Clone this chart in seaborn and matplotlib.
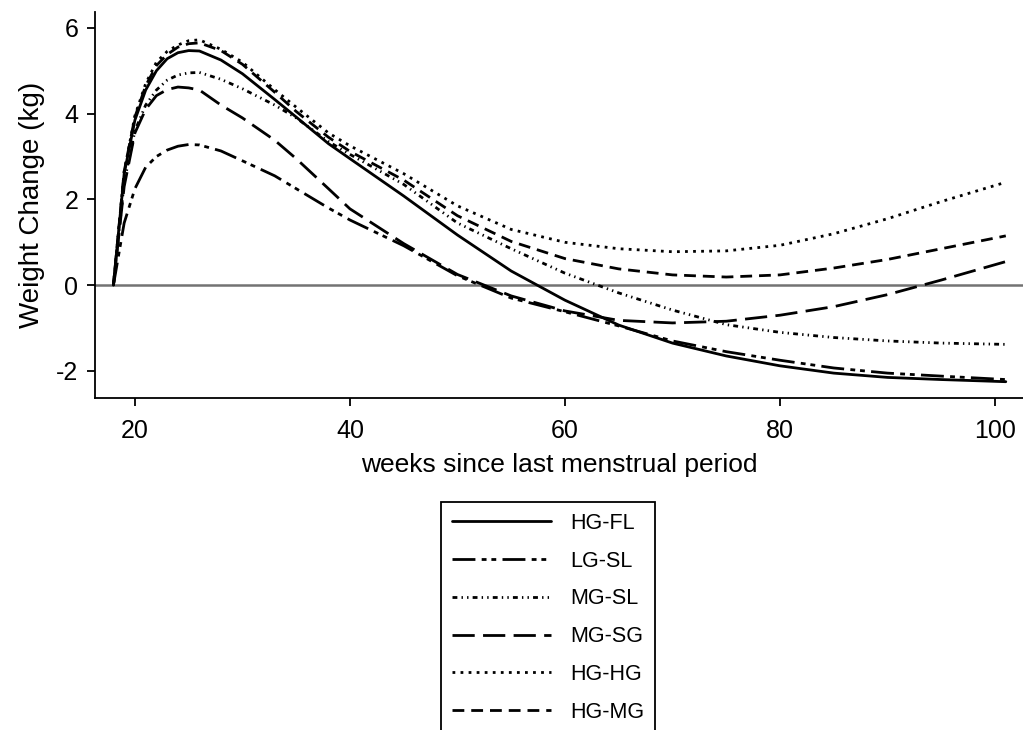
import numpy as np
import pandas as pd
import seaborn as sns
import matplotlib
matplotlib.use("Agg")
import matplotlib.pyplot as plt

weeks = [18, 19, 20, 21, 22, 23, 24, 25, 26, 28, 30, 33, 35, 38, 40,
         45, 50, 55, 60, 65, 70, 75, 80, 85, 90, 95, 101]

hg_fl = [0, 2.6, 3.85, 4.55, 5.0, 5.28, 5.42, 5.47, 5.46, 5.25, 4.93, 4.33, 3.92, 3.3, 2.95,
         2.08, 1.17, 0.33, -0.35, -0.93, -1.35, -1.65, -1.88, -2.05, -2.15, -2.2, -2.25]
lg_sl = [0, 1.45, 2.25, 2.75, 3.0, 3.15, 3.24, 3.28, 3.27, 3.13, 2.9, 2.55, 2.25, 1.8, 1.52,
         0.92, 0.22, -0.3, -0.62, -0.95, -1.3, -1.55, -1.75, -1.93, -2.05, -2.12, -2.2]
mg_sl = [0, 2.4, 3.6, 4.2, 4.55, 4.78, 4.9, 4.95, 4.96, 4.8, 4.58, 4.2, 3.9, 3.35, 3.05,
         2.35, 1.45, 0.85, 0.28, -0.18, -0.58, -0.92, -1.1, -1.22, -1.3, -1.35, -1.38]
mg_sg = [0, 2.3, 3.55, 4.1, 4.42, 4.56, 4.62, 4.6, 4.55, 4.2, 3.9, 3.38, 2.95, 2.25, 1.78,
         0.97, 0.25, -0.25, -0.6, -0.82, -0.88, -0.84, -0.7, -0.5, -0.22, 0.12, 0.55]
hg_hg = [0, 2.65, 3.95, 4.7, 5.2, 5.45, 5.6, 5.7, 5.72, 5.5, 5.2, 4.56, 4.15, 3.55, 3.25,
         2.6, 1.85, 1.3, 1.0, 0.85, 0.78, 0.8, 0.93, 1.2, 1.55, 1.95, 2.4]
hg_mg = [0, 2.65, 3.92, 4.65, 5.12, 5.38, 5.55, 5.63, 5.65, 5.47, 5.15, 4.5, 4.05, 3.45, 3.12,
         2.45, 1.62, 1.02, 0.62, 0.38, 0.24, 0.19, 0.24, 0.4, 0.6, 0.85, 1.15]

groups = ["HG-FL", "LG-SL", "MG-SL", "MG-SG", "HG-HG", "HG-MG"]
values = [hg_fl, lg_sl, mg_sl, mg_sg, hg_hg, hg_mg]

# dash patterns in points (not scaled by linewidth)
dash_map = {
    "HG-FL": "",
    "LG-SL": (16.5, 4.5, 3.5, 3.5, 3.5, 4.5),
    "MG-SL": (3.5, 3, 1, 3, 1, 3),
    "MG-SG": (16, 6),
    "HG-HG": (2, 3.8),
    "HG-MG": (8.5, 5),
}

df = pd.concat([pd.DataFrame({"week": weeks, "change": v, "group": g})
                for g, v in zip(groups, values)], ignore_index=True)

sns.set_style("ticks")
plt.rcParams["font.family"] = ["Liberation Sans", "DejaVu Sans"]
plt.rcParams["lines.scale_dashes"] = False
plt.rcParams["axes.unicode_minus"] = False
plt.rcParams["text.color"] = "black"
plt.rcParams["axes.labelcolor"] = "black"
plt.rcParams["xtick.color"] = "black"
plt.rcParams["ytick.color"] = "black"

LW = 2.0

fig = plt.figure(figsize=(10.23, 7.3), dpi=100)
ax = fig.add_axes([0.093, 0.4548, 0.907, 0.5288])

ax.axhline(0, color="0.45", lw=1.8, zorder=1)

sns.lineplot(data=df, x="week", y="change", hue="group", style="group",
             hue_order=groups, style_order=groups,
             palette=["black"] * 6, dashes=dash_map, linewidth=LW,
             ax=ax, legend="full", zorder=3)

handles = ax.get_legend().legend_handles
labels = [t.get_text() for t in ax.get_legend().get_texts()]
ax.get_legend().remove()

ax.set_xlim(16.3, 102.6)
ax.set_ylim(-2.63, 6.37)
ax.set_xticks([20, 40, 60, 80, 100])
ax.set_yticks([-2, 0, 2, 4, 6])
ax.set_xlabel("weeks since last menstrual period", fontsize=19, labelpad=7)
ax.set_ylabel("Weight Change (kg)", fontsize=20, labelpad=8)
ax.tick_params(direction="out", length=6, width=1.3, labelsize=18, pad=6)
ax.tick_params(axis="x", pad=9)

sns.despine(ax=ax)
for s in ["left", "bottom"]:
    ax.spines[s].set_linewidth(1.3)
    ax.spines[s].set_color("black")

for h in handles:
    h.set_linewidth(LW)
    h.set_color("black")

leg = fig.legend(handles, labels, loc="upper left",
                 bbox_to_anchor=(441 / 1023, 1 - 502 / 730), borderaxespad=0,
                 fontsize=15.5, handlelength=4.6, handletextpad=0.9,
                 labelspacing=0.78, borderpad=0.5, fancybox=False,
                 framealpha=1, edgecolor="black")
leg.get_frame().set_linewidth(1.3)

fig.savefig("out.png", dpi=100)
